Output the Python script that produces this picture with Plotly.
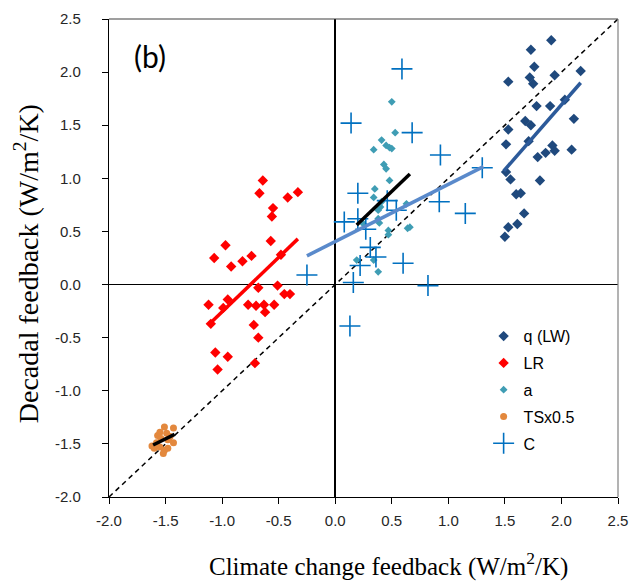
import plotly.graph_objects as go

# ---- data ----
q_x = [1.91, 1.73, 1.76, 1.53, 1.72, 1.75, 1.94, 2.17, 1.78, 1.90, 2.03, 1.68, 1.73, 1.53, 2.11,
       1.71, 1.51, 1.92, 1.94, 1.86, 1.79, 2.09, 1.51, 1.55, 1.81, 1.60, 1.64, 1.67, 1.53, 1.61, 1.50]
q_y = [2.30, 2.21, 2.05, 1.91, 1.95, 1.89, 1.97, 2.01, 1.68, 1.68, 1.74, 1.54, 1.50, 1.46, 1.56,
       1.35, 1.32, 1.31, 1.26, 1.24, 1.20, 1.27, 1.06, 0.99, 0.98, 0.85, 0.86, 0.67, 0.54, 0.57, 0.45]

lr_x = [-0.64, -0.67, -0.33, -0.42, -0.55, -0.56, -0.57, -0.97, -1.07, -0.74, -0.82, -0.92, -0.48,
        -0.68, -0.51, -0.45, -0.40, -0.95, -0.99, -1.12, -0.77, -0.70, -0.63, -0.54, -0.62, -1.10,
        -0.72, -0.68, -1.06, -0.95, -1.04, -0.71]
lr_y = [0.98, 0.86, 0.87, 0.82, 0.72, 0.64, 0.41, 0.37, 0.25, 0.27, 0.22, 0.17, 0.28,
        -0.03, -0.01, -0.09, -0.09, -0.14, -0.22, -0.19, -0.19, -0.20, -0.19, -0.19, -0.26, -0.37,
        -0.38, -0.50, -0.64, -0.68, -0.80, -0.74]

a_x = [0.50, 0.53, 0.41, 0.45, 0.48, 0.50, 0.34, 0.43, 0.45, 0.48, 0.35, 0.34, 0.41, 0.63, 0.40,
       0.38, 0.38, 0.39, 0.25, 0.47, 0.47, 0.64, 0.66, 0.19, 0.34, 0.38]
a_y = [1.72, 1.43, 1.36, 1.31, 1.29, 1.28, 1.27, 1.13, 1.09, 0.98, 0.90, 0.82, 0.78, 0.76, 0.73,
       0.70, 0.62, 0.58, 0.57, 0.51, 0.47, 0.53, 0.54, 0.23, 0.23, 0.12]

ts_x = [-1.51, -1.43, -1.57, -1.55, -1.43, -1.60, -1.51, -1.52, -1.48, -1.58, -1.54, -1.49,
        -1.46, -1.62, -1.55, -1.48]
ts_y = [-1.34, -1.35, -1.42, -1.39, -1.49, -1.54, -1.56, -1.59, -1.46, -1.49, -1.45, -1.40,
        -1.43, -1.52, -1.53, -1.54]

c_x = [0.59, 0.14, 0.68, 0.93, 1.30, 0.20, 0.46, 0.92, 0.54, 1.15, 0.08, 0.20, 0.27, 0.31,
       0.36, 0.22, 0.60, -0.25, 0.16, 0.82, 0.13]
c_y = [2.03, 1.52, 1.43, 1.22, 1.10, 0.86, 0.79, 0.78, 0.70, 0.67, 0.59, 0.62, 0.52, 0.35,
       0.26, 0.18, 0.20, 0.09, 0.02, -0.01, -0.39]

# regression line end points
q_fit_x = [1.49, 2.17]
q_fit_y = [1.07, 1.90]
lr_fit_x = [-1.11, -0.33]
lr_fit_y = [-0.37, 0.43]
a_fit_x = [0.19, 0.66]
a_fit_y = [0.56, 1.04]
ts_fit_x = [-1.61, -1.42]
ts_fit_y = [-1.51, -1.41]
c_fit_x = [-0.25, 1.31]
c_fit_y = [0.27, 1.11]

axis_range = [-2.0, 2.5]
tick_vals = [-2.0, -1.5, -1.0, -0.5, 0.0, 0.5, 1.0, 1.5, 2.0, 2.5]
tick_text = ["-2.0", "-1.5", "-1.0", "-0.5", "0.0", "0.5", "1.0", "1.5", "2.0", "2.5"]

# ---- figure ----
fig = go.Figure()

# 1:1 dashed line
fig.add_trace(go.Scatter(x=axis_range, y=axis_range, mode="lines",
                         line=dict(color="black", width=1.5, dash="5px,4px"),
                         showlegend=False, hoverinfo="skip"))

fig.add_trace(go.Scatter(x=q_x, y=q_y, mode="markers", name="q (LW)", legendgroup="q",
                         marker=dict(symbol="diamond", size=8, color="#1F497D")))
fig.add_trace(go.Scatter(x=lr_x, y=lr_y, mode="markers", name="LR", legendgroup="lr",
                         marker=dict(symbol="diamond", size=8, color="#FF0000")))
fig.add_trace(go.Scatter(x=a_x, y=a_y, mode="markers", name="a", legendgroup="a",
                         marker=dict(symbol="diamond", size=6, color="#3F9DB4")))
fig.add_trace(go.Scatter(x=ts_x, y=ts_y, mode="markers", name="TSx0.5", legendgroup="ts",
                         marker=dict(symbol="circle", size=7, color="#E3883D")))
fig.add_trace(go.Scatter(x=c_x, y=c_y, mode="markers", name="C", legendgroup="c",
                         marker=dict(symbol="cross-thin", size=15, color="#0070C0",
                                     line=dict(color="#0070C0", width=1.6))))

# regression lines
for fx, fy, col in [(q_fit_x, q_fit_y, "#2C5A9A"), (lr_fit_x, lr_fit_y, "#FF0000"),
                    (a_fit_x, a_fit_y, "#000000"), (ts_fit_x, ts_fit_y, "#000000"),
                    (c_fit_x, c_fit_y, "#5A8ACB")]:
    fig.add_trace(go.Scatter(x=fx, y=fy, mode="lines", line=dict(color=col, width=3.5),
                             showlegend=False, hoverinfo="skip"))

axis_common = dict(range=axis_range, tickvals=tick_vals, ticktext=tick_text,
                   showgrid=False, showline=True, linecolor="black", linewidth=1.2,
                   ticks="outside", ticklen=6, tickcolor="black", tickwidth=1,
                   tickfont=dict(family="Liberation Sans, Arial", size=15, color="#262626"),
                   zeroline=True, zerolinecolor="black", automargin=False)

fig.update_xaxes(**axis_common, zerolinewidth=2, ticklabelstandoff=4)
fig.update_yaxes(**axis_common, zerolinewidth=1.2, ticklabelstandoff=18)

fig.add_annotation(text="Climate change feedback (W/m<sup>2</sup>/K)", xref="paper", yref="paper",
                   x=0.550, y=-0.142, showarrow=False, xanchor="center", yanchor="middle",
                   font=dict(family="Liberation Serif, Times New Roman", size=25, color="black"))
fig.add_annotation(text="Decadal feedback (W/m<sup>2</sup>/K)", xref="paper", yref="paper",
                   x=-0.163, y=0.487, showarrow=False, xanchor="center", yanchor="middle",
                   textangle=-90,
                   font=dict(family="Liberation Serif, Times New Roman", size=28, color="black"))

# top / right frame
fig.add_shape(type="line", xref="paper", yref="paper", x0=0, x1=1, y0=1, y1=1,
              line=dict(color="#404040", width=1.2))
fig.add_shape(type="line", xref="paper", yref="paper", x0=1, x1=1, y0=0, y1=1,
              line=dict(color="#808080", width=1.2))

fig.add_annotation(text="(b)", xref="paper", yref="paper", x=0.08, y=0.922,
                   showarrow=False, xanchor="center", yanchor="middle",
                   font=dict(family="Lato, Open Sans", size=30, color="black"))

# page body adds an 8px margin, so the figure is sized to fit the window
fig.update_layout(
    width=633, height=573,
    margin=dict(l=101, r=23, t=11, b=84),
    plot_bgcolor="white", paper_bgcolor="white",
    showlegend=True,
    legend=dict(x=0.736, y=0.372, xanchor="left", yanchor="top",
                font=dict(family="Liberation Sans, Arial", size=16, color="black"),
                bgcolor="rgba(0,0,0,0)", traceorder="grouped", tracegroupgap=3,
                itemwidth=30),
)

fig.write_html("out.html")
